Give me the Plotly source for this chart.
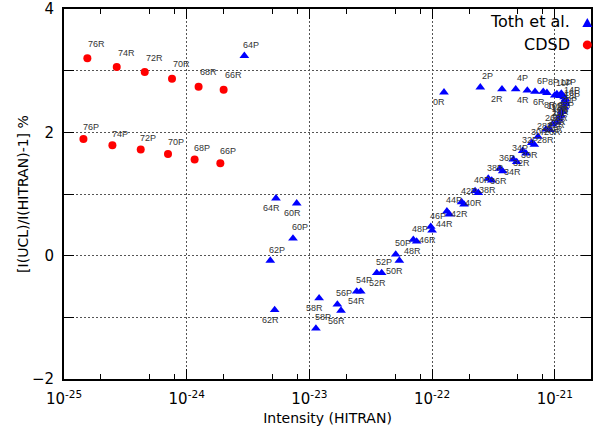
import math
import plotly.graph_objects as go

# ---------------- data ----------------
cdsd_labels = ["76R", "74R", "72R", "70R", "68R", "66R",
               "76P", "74P", "72P", "70P", "68P", "66P"]
cdsd_intensity = [1.55e-25, 2.69e-25, 4.55e-25, 7.59e-25, 1.25e-24, 2.00e-24,
                  1.44e-25, 2.48e-25, 4.22e-25, 7.04e-25, 1.16e-24, 1.88e-24]
cdsd_percent = [3.20, 3.06, 2.98, 2.87, 2.74, 2.69,
                1.89, 1.79, 1.72, 1.65, 1.56, 1.50]

toth_labels = [
    "0R", "2P", "2R", "4P", "4R", "6P", "6R", "8P", "8R",
    "10P", "10R", "12P", "12R", "14P", "14R", "16P", "16R", "18P", "18R",
    "20P", "20R", "22P", "22R", "24P", "24R", "26P", "26R", "28P", "28R",
    "30P", "30R", "32P", "32R", "34P", "34R", "36P", "36R", "38P", "38R",
    "40P", "40R", "42P", "42R", "44P", "44R", "46P", "46R", "48P", "48R",
    "50P", "50R", "52P", "52R", "54P", "54R", "56P", "56R", "58P", "58R",
    "60P", "60R", "62P", "62R", "64P", "64R",
]
toth_intensity = [
    1.25e-22, 2.47e-22, 3.71e-22, 4.80e-22, 5.97e-22, 6.90e-22, 8.05e-22, 8.63e-22, 1.00e-21,
    1.04e-21, 1.10e-21, 1.13e-21, 1.19e-21, 1.21e-21, 1.22e-21, 1.22e-21, 1.21e-21, 1.20e-21, 1.18e-21,
    1.14e-21, 1.15e-21, 1.09e-21, 1.12e-21, 9.58e-22, 1.08e-21, 8.48e-22, 1.04e-21, 7.30e-22, 9.14e-22,
    6.49e-22, 6.81e-22, 5.47e-22, 5.82e-22, 4.59e-22, 4.89e-22, 3.57e-22, 3.76e-22, 2.87e-22, 3.06e-22,
    2.24e-22, 2.38e-22, 1.74e-22, 1.82e-22, 1.32e-22, 1.38e-22, 9.75e-23, 1.00e-22, 7.03e-23, 7.48e-23,
    5.05e-23, 5.41e-23, 3.54e-23, 3.88e-23, 2.43e-23, 2.62e-23, 1.69e-23, 1.81e-23, 1.13e-23, 1.20e-23,
    7.35e-24, 7.88e-24, 4.80e-24, 5.21e-24, 2.95e-24, 5.34e-24,
]
toth_percent = [
    2.65, 2.73, 2.70, 2.70, 2.68, 2.66, 2.66, 2.64, 2.60,
    2.62, 2.59, 2.63, 2.57, 2.51, 2.54, 2.46, 2.49, 2.41, 2.40,
    2.35, 2.33, 2.26, 2.28, 2.13, 2.21, 2.05, 2.16, 1.93, 2.04,
    1.83, 1.80, 1.70, 1.66, 1.56, 1.52, 1.41, 1.37, 1.25, 1.22,
    1.05, 1.02, 0.87, 0.83, 0.72, 0.67, 0.47, 0.41, 0.26, 0.23,
    0.02, -0.08, -0.28, -0.28, -0.58, -0.58, -0.79, -0.89, -1.18, -0.69,
    0.28, 0.85, -0.08, -0.88, 3.24, 0.93,
]

x_major = [1e-25, 1e-24, 1e-23, 1e-22, 1e-21]
x_major_text = ["10<sup>-25</sup>", "10<sup>-24</sup>", "10<sup>-23</sup>",
                "10<sup>-22</sup>", "10<sup>-21</sup>"]
x_minor = [m * d for d in [1e-25, 1e-24, 1e-23, 1e-22] for m in (2, 5, 8)]

# ---------------- figure ----------------
BLUE = "#0000ff"
RED = "#ff0000"
TICKFONT = dict(family="DejaVu Sans", size=15, color="black")
LABFONT = dict(family="Liberation Sans", size=9, color="#333333")
GRIDCOL = "#555555"
GRIDDASH = "2px,2px"

fig = go.Figure()
fig.add_trace(go.Scatter(
    x=toth_intensity, y=toth_percent, mode="markers", name="Toth et al.",
    marker=dict(symbol="triangle-up", size=8.5, color=BLUE, line=dict(width=0)),
    showlegend=False, cliponaxis=False))
fig.add_trace(go.Scatter(
    x=cdsd_intensity, y=cdsd_percent, mode="markers", name="CDSD",
    marker=dict(symbol="circle", size=8, color=RED, line=dict(width=0)),
    showlegend=False, cliponaxis=False))

ann = []
for lab, xi, yi in zip(toth_labels, toth_intensity, toth_percent):
    if lab.endswith("P"):
        dx, dy = 7, 11
    else:
        dx, dy = -4.5, -10
    ann.append(dict(x=math.log10(xi), y=yi, xref="x", yref="y", text=lab,
                    showarrow=False, xanchor="center", yanchor="middle",
                    xshift=dx, yshift=dy, font=LABFONT))
for lab, xi, yi in zip(cdsd_labels, cdsd_intensity, cdsd_percent):
    if lab.endswith("P"):
        dx, dy = 7.5, 11.7
    else:
        dx, dy = 9.5, 14.3
    ann.append(dict(x=math.log10(xi), y=yi, xref="x", yref="y", text=lab,
                    showarrow=False, xanchor="center", yanchor="middle",
                    xshift=dx, yshift=dy, font=LABFONT))

# y-axis title (placed as rotated text left of the tick labels)
ann.append(dict(x=-0.078, y=0.5, xref="paper", yref="paper",
                text="[I(UCL)/I(HITRAN)-1] %", textangle=-90, showarrow=False,
                xanchor="center", yanchor="middle",
                font=dict(family="DejaVu Sans", size=14, color="black")))

# custom legend (text left of symbol, as in the reference)
LEGFONT = dict(family="DejaVu Sans", size=16, color="black")
ann.append(dict(x=0.964, y=0.965, xref="paper", yref="paper", text="Toth et al.",
                showarrow=False, xanchor="right", yanchor="middle", font=LEGFONT))
ann.append(dict(x=0.964, y=0.903, xref="paper", yref="paper", text="CDSD",
                showarrow=False, xanchor="right", yanchor="middle", font=LEGFONT))

shapes = [
    dict(type="path", xref="paper", yref="paper", xsizemode="pixel", ysizemode="pixel",
         xanchor=0.993, yanchor=0.962, path="M -5,-4 L 5,-4 L 0,5 Z",
         fillcolor=BLUE, line=dict(width=0)),
    dict(type="circle", xref="paper", yref="paper", xsizemode="pixel", ysizemode="pixel",
         xanchor=0.993, yanchor=0.903, x0=-4.5, x1=4.5, y0=-4.5, y1=4.5,
         fillcolor=RED, line=dict(width=0)),
]

fig.update_layout(
    width=599, height=435,
    margin=dict(l=64, r=8, t=9, b=56, pad=0, autoexpand=False),
    paper_bgcolor="white", plot_bgcolor="white",
    annotations=ann, shapes=shapes,
    xaxis=dict(
        type="log", range=[-25, -20.705], automargin=False,
        tickmode="array", tickvals=x_major, ticktext=x_major_text,
        ticks="inside", ticklen=10, tickwidth=1, tickcolor="black",
        showline=True, linecolor="black", linewidth=2, mirror="allticks",
        tickfont=TICKFONT, ticklabelstandoff=5,
        showgrid=True, gridcolor=GRIDCOL, gridwidth=1, griddash=GRIDDASH,
        minor=dict(tickmode="array", tickvals=x_minor, ticks="inside", ticklen=5,
                   tickwidth=1, tickcolor="black", showgrid=False),
        title=dict(text="Intensity (HITRAN)", standoff=6,
                   font=dict(family="DejaVu Sans", size=14, color="black")),
        zeroline=False),
    yaxis=dict(
        range=[-2, 4], automargin=False, tickmode="linear", tick0=-2, dtick=2,
        ticks="inside", ticklen=10, tickwidth=1, tickcolor="black",
        showline=True, linecolor="black", linewidth=2, mirror="allticks",
        tickfont=TICKFONT, ticklabelstandoff=5,
        showgrid=True, gridcolor=GRIDCOL, gridwidth=1, griddash=GRIDDASH,
        minor=dict(dtick=1, tick0=-2, ticks="inside", ticklen=10, tickwidth=1,
                   tickcolor="black", showgrid=True, gridcolor=GRIDCOL,
                   gridwidth=1, griddash=GRIDDASH),
        zeroline=False),
)

fig.write_html("out.html", config={"displayModeBar": False},
               post_script="document.body.style.margin='0px';")
